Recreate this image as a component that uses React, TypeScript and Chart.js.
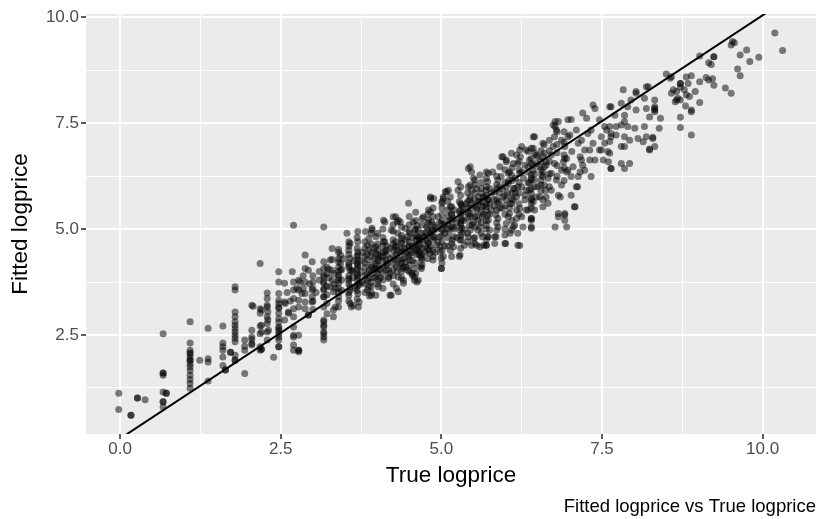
import React, { useEffect, useRef } from "react";
import { Chart, registerables } from "chart.js";

Chart.register(...registerables);

const obsBelow1_5: [number, number][] = [
  [-0.02, 1.12], [-0.02, 0.74], [0.17, 0.6], [0.17, 0.6], [0.27, 1.01], [0.27, 1.01], [0.39, 0.97],
  [0.67, 2.53], [0.67, 1.6], [0.67, 1.6], [0.67, 1.55], [0.67, 1.15], [0.72, 1.12], [0.72, 1.12], [0.67, 0.92], [0.67, 0.92], [0.67, 0.8],
  [1.09, 2.81], [1.09, 2.31], [1.09, 2.14], [1.09, 2.05], [1.09, 1.97], [1.09, 1.9], [1.09, 1.82], [1.09, 1.75],
  [1.09, 1.66], [1.09, 1.55], [1.09, 1.45], [1.09, 1.35], [1.09, 1.24], [1.09, 2.08], [1.09, 1.9],
  [1.24, 1.9], [1.37, 2.66], [1.37, 1.94], [1.37, 1.86], [1.37, 1.41],
];

const obs1_5to2_5: [number, number][] = [
  [1.6, 2.71], [1.6, 2.31], [1.6, 2.22], [1.6, 2.14], [1.6, 1.98], [1.6, 1.78], [1.64, 1.67], [1.64, 1.67], [1.72, 2.09], [1.72, 2.09],
  [1.79, 3.64], [1.79, 3.56], [1.79, 3.04], [1.79, 2.93], [1.79, 2.81], [1.79, 2.73], [1.79, 2.65], [1.79, 2.57],
  [1.79, 2.49], [1.79, 2.42], [1.79, 2.34], [1.79, 2.02], [1.79, 1.9], [1.79, 1.9],
  [1.94, 2.38], [1.94, 2.23], [1.94, 2.14], [1.94, 1.59],
  [2.05, 3.2], [2.07, 3.18], [2.05, 2.61], [2.05, 2.45], [2.05, 2.39], [2.05, 2.3], [2.05, 2.26],
  [2.18, 4.19], [2.18, 3.12], [2.18, 3.01], [2.18, 2.71], [2.18, 2.53], [2.2, 2.57], [2.18, 2.22], [2.18, 2.14],
  [2.2, 2.73], [2.2, 3.09], [2.2, 2.16], [2.2, 2.16],
  [2.29, 3.49], [2.29, 3.36], [2.29, 3.2], [2.29, 3.16], [2.29, 2.93], [2.29, 2.77], [2.29, 2.57], [2.29, 2.38],
  [2.31, 2.61], [2.39, 1.97],
  [2.47, 3.99], [2.47, 3.75], [2.47, 3.48], [2.47, 3.32], [2.47, 3.24], [2.47, 3.16], [2.47, 3.13], [2.47, 3.01],
  [2.47, 2.89], [2.47, 2.69], [2.47, 2.65], [2.47, 2.53], [2.47, 2.45], [2.47, 2.38], [2.47, 2.22], [2.47, 2.22],
  [2.3, 3.05], [2.3, 2.85], [2.47, 2.8], [2.47, 2.6],
];

const obs2_5to3_5: [number, number][] = [
  [2.56, 3.72], [2.56, 3.28], [2.56, 2.85], [2.57, 3.24], [2.62, 3.04], [2.62, 3.01],
  [2.68, 3.99], [2.7, 3.75], [2.7, 3.56], [2.7, 3.36], [2.7, 3.12], [2.7, 2.93], [2.7, 2.69], [2.7, 2.49],
  [2.7, 2.45], [2.7, 2.26], [2.7, 2.14], [2.78, 2.14], [2.78, 2.14], [2.7, 5.09], [2.78, 2.1],
  [2.78, 3.79], [2.78, 3.56], [2.78, 3.32], [2.78, 3.16], [2.78, 2.49], [2.8, 3.75], [2.83, 3.48],
  [2.88, 4.39], [2.88, 4.07], [2.88, 3.75], [2.88, 3.48], [2.88, 3.12], [2.88, 3.28], [2.93, 2.97], [2.93, 2.97], [2.93, 4.03],
  [2.99, 4.23], [2.99, 3.56], [2.99, 3.4], [2.99, 3.28],
  [3.17, 5.05], [3.17, 4.23], [3.17, 4.07], [3.17, 3.91], [3.17, 3.87], [3.17, 3.75], [3.17, 3.72], [3.17, 3.59],
  [3.17, 3.56], [3.17, 3.4], [3.17, 3.4], [3.17, 3.16], [3.17, 2.85], [3.17, 2.81], [3.17, 2.73], [3.17, 2.69],
  [3.17, 2.57], [3.17, 2.53], [3.17, 2.38], [3.17, 2.45],
  [3.27, 3.64], [3.27, 4.27], [3.3, 4.54], [3.3, 4.28], [3.3, 4.03], [3.3, 3.79], [3.32, 3.09], [3.32, 2.93],
  [3.32, 3.52], [3.35, 3.6], [3.35, 3.16],
  [3.4, 4.52], [3.43, 4.39], [3.4, 4.23], [3.43, 4.19], [3.43, 4.03], [3.4, 3.91], [3.4, 3.79], [3.4, 3.72],
  [3.4, 3.4], [3.4, 3.16],
  [3.0, 3.1], [3.0, 3.3], [3.0, 3.6], [3.0, 3.75], [3.0, 3.9],
  [3.22, 3.0], [3.22, 3.25], [3.22, 3.45], [3.22, 3.65], [3.22, 3.95], [3.22, 4.1],
  [3.4, 3.3], [3.4, 3.5], [3.4, 3.6], [3.4, 3.85], [3.4, 4.0], [3.4, 4.1], [3.4, 4.3], [3.4, 4.45],
  [2.6, 3.5], [2.65, 3.3], [2.75, 3.6], [2.85, 3.6], [2.85, 3.9], [2.95, 3.7], [3.05, 3.5], [3.1, 3.8],
  [3.1, 4.0], [3.25, 3.85], [3.25, 4.05], [3.33, 3.7], [3.33, 3.95], [3.45, 3.55], [3.45, 3.8], [3.45, 4.05], [3.48, 4.3],
];

const obs3_5to4_5: [number, number][] = [
  [3.53, 4.9], [3.56, 4.7], [3.58, 4.66], [3.56, 4.5], [3.58, 4.31], [3.61, 4.03], [3.56, 4.15], [3.58, 4.03],
  [3.56, 3.83], [3.56, 3.79], [3.58, 3.64], [3.58, 3.56], [3.56, 3.44], [3.58, 3.24], [3.63, 3.2], [3.6, 3.16],
  [3.7, 4.94], [3.7, 4.7], [3.7, 4.46], [3.7, 4.39], [3.7, 4.27], [3.7, 4.15], [3.7, 4.11], [3.7, 3.91],
  [3.7, 3.87], [3.72, 3.72], [3.72, 3.68], [3.7, 3.48], [3.72, 3.28], [3.71, 3.16],
  [3.82, 4.94], [3.85, 4.62], [3.87, 5.21], [3.92, 4.98], [3.87, 4.78], [3.87, 4.5], [3.85, 4.27], [3.87, 4.03],
  [3.87, 3.83], [3.85, 3.79], [3.87, 3.64], [3.85, 3.56], [3.91, 3.44], [3.88, 3.42],
  [3.92, 5.02], [3.98, 4.82], [3.98, 4.58], [3.98, 4.43], [4.02, 4.31], [3.98, 4.19], [3.98, 4.07], [4.0, 4.03],
  [3.98, 3.87], [4.02, 3.79], [4.02, 3.64], [3.98, 3.44],
  [4.1, 5.21], [4.12, 5.17], [4.1, 4.7], [4.12, 4.7], [4.14, 4.5], [4.12, 4.46], [4.14, 4.27], [4.16, 4.19],
  [4.14, 4.03], [4.18, 4.03], [4.18, 3.87], [4.18, 3.83], [4.2, 3.44], [4.22, 3.44],
  [4.22, 4.98], [4.25, 5.29], [4.28, 4.27], [4.28, 4.58], [4.29, 5.29], [4.31, 5.17], [4.32, 4.9], [4.29, 4.7],
  [4.31, 4.5], [4.33, 4.27], [4.3, 4.11], [4.31, 3.99], [4.3, 3.6], [4.33, 3.52],
  [4.36, 5.17], [4.38, 4.78], [4.4, 4.46], [4.4, 4.07], [4.41, 3.79], [4.44, 5.02], [4.47, 4.82], [4.48, 4.58],
  [4.46, 4.43], [4.44, 4.23], [4.48, 4.03], [4.33, 5.21], [4.38, 4.66], [4.49, 4.35], [4.41, 4.11], [4.33, 3.87],
  [4.41, 3.72],
];

// denser core along the price columns
const obsCore3_5to4_5: [number, number][] = [
  [3.56, 3.3], [3.56, 3.5], [3.56, 3.7], [3.56, 3.9], [3.56, 4.1], [3.56, 4.2], [3.56, 4.4], [3.56, 4.6],
  [3.69, 3.35], [3.69, 3.55], [3.69, 3.65], [3.69, 3.8], [3.69, 3.95], [3.69, 4.05], [3.69, 4.2], [3.69, 4.35], [3.69, 4.55], [3.69, 4.8],
  [3.81, 3.5], [3.81, 3.7], [3.81, 3.9], [3.81, 4.1], [3.81, 4.2], [3.81, 4.35], [3.81, 4.55], [3.81, 4.7],
  [3.91, 3.5], [3.91, 3.65], [3.91, 3.75], [3.91, 3.95], [3.91, 4.1], [3.91, 4.15], [3.91, 4.35], [3.91, 4.45], [3.91, 4.65], [3.91, 4.9],
  [4.01, 3.7], [4.01, 3.95], [4.01, 4.15], [4.01, 4.25], [4.01, 4.4], [4.01, 4.5], [4.01, 4.65], [4.01, 4.9],
  [4.09, 3.6], [4.09, 3.8], [4.09, 3.95], [4.09, 4.1], [4.09, 4.25], [4.09, 4.35], [4.09, 4.45], [4.09, 4.6], [4.09, 4.8], [4.09, 5.0],
  [4.25, 3.7], [4.25, 3.9], [4.25, 4.05], [4.25, 4.2], [4.25, 4.35], [4.25, 4.5], [4.25, 4.65], [4.25, 4.75], [4.25, 4.95], [4.25, 5.1],
  [4.38, 3.85], [4.38, 4.0], [4.38, 4.2], [4.38, 4.3], [4.38, 4.55], [4.38, 4.7], [4.38, 4.85], [4.38, 5.05],
  [4.5, 4.0], [4.5, 4.15], [4.5, 4.4], [4.5, 4.6], [4.5, 4.7], [4.5, 4.95], [4.5, 5.1], [4.5, 5.3],
  [3.62, 3.85], [3.62, 4.0], [3.64, 4.25], [3.66, 3.6], [3.75, 4.0], [3.75, 4.25], [3.77, 3.75], [3.77, 4.45],
  [3.84, 3.95], [3.84, 4.4], [3.95, 3.85], [3.95, 4.05], [3.95, 4.3], [3.95, 4.55],
  [4.05, 4.05], [4.05, 4.35], [4.05, 3.85], [4.15, 4.15], [4.15, 4.4], [4.15, 4.6], [4.2, 3.95], [4.2, 4.3],
  [4.2, 4.55], [4.3, 4.4], [4.3, 4.6], [4.35, 4.15], [4.35, 4.45], [4.42, 4.3], [4.42, 4.55], [4.45, 4.75], [4.45, 4.1],
];

const obs4_5to5_5: [number, number][] = [
  [4.49, 5.61], [4.51, 4.9], [4.51, 4.5], [4.51, 4.27], [4.54, 3.95], [4.55, 3.91], [4.58, 3.79], [4.62, 3.75],
  [4.56, 5.17], [4.59, 4.98], [4.61, 4.74], [4.6, 4.5], [4.58, 4.07], [4.58, 3.87], [4.62, 5.09], [4.63, 4.82],
  [4.66, 4.66], [4.66, 4.46], [4.69, 4.31], [4.69, 4.07], [4.7, 4.27], [4.72, 5.29], [4.72, 4.82],
  [4.64, 4.98], [4.66, 4.74], [4.64, 4.5], [4.68, 4.35], [4.68, 4.11], [4.64, 3.79],
  [4.77, 5.05], [4.77, 4.74], [4.8, 4.5], [4.83, 5.76], [4.83, 5.41], [4.85, 5.17], [4.8, 5.45], [4.83, 5.72],
  [4.8, 5.21], [4.85, 4.98], [4.87, 4.82], [4.8, 4.66], [4.82, 4.43], [4.87, 4.27],
  [4.9, 5.05], [4.93, 4.62], [4.88, 5.72], [4.95, 5.29], [5.0, 5.13], [4.97, 4.82], [5.02, 4.98], [4.98, 4.58],
  [5.0, 4.31], [5.0, 4.07], [4.98, 4.46], [5.03, 4.35], [5.0, 4.07],
  [5.03, 5.76], [5.06, 5.88], [5.11, 5.92], [5.03, 5.72], [5.01, 5.61], [5.08, 5.88],
  [5.14, 5.76], [5.14, 5.53], [5.16, 5.53], [5.16, 5.37], [5.16, 5.33], [5.16, 5.21], [5.19, 5.05], [5.16, 5.05],
  [5.19, 4.82], [5.17, 4.74], [5.16, 4.66], [5.19, 4.58], [5.14, 4.5], [5.16, 4.35], [5.29, 4.39],
  [5.26, 6.12], [5.26, 5.92], [5.28, 5.65], [5.31, 5.57], [5.28, 5.41], [5.33, 5.53], [5.31, 5.21], [5.31, 5.25],
  [5.29, 4.98], [5.31, 5.02], [5.33, 4.9], [5.29, 4.74], [5.31, 4.74], [5.36, 4.62], [5.28, 4.35],
  [5.42, 6.43], [5.45, 6.47], [5.47, 6.35], [5.5, 6.2], [5.42, 6.0], [5.45, 6.04], [5.47, 5.92], [5.44, 5.69],
  [5.45, 5.76], [5.42, 5.37], [5.47, 5.61], [5.44, 5.09], [5.45, 5.37], [5.42, 4.82], [5.5, 5.17], [5.52, 4.66],
  [5.45, 4.98], [5.5, 4.78], [5.47, 4.62],
];

const obsCore4_5to5_5: [number, number][] = [
  [4.6, 3.95], [4.6, 4.2], [4.6, 4.4], [4.6, 4.55], [4.6, 4.65], [4.6, 4.85], [4.6, 5.0], [4.6, 5.2], [4.6, 5.4],
  [4.7, 4.15], [4.7, 4.4], [4.7, 4.55], [4.7, 4.75], [4.7, 4.9], [4.7, 5.1], [4.7, 5.25],
  [4.79, 4.3], [4.79, 4.55], [4.79, 4.7], [4.79, 4.85], [4.79, 5.0], [4.79, 5.15], [4.79, 5.35],
  [4.87, 4.35], [4.87, 4.5], [4.87, 4.75], [4.87, 4.95], [4.87, 5.1], [4.87, 5.3], [4.87, 5.5],
  [5.01, 4.2], [5.01, 4.5], [5.01, 4.7], [5.01, 4.85], [5.01, 5.0], [5.01, 5.2], [5.01, 5.35], [5.01, 5.5], [5.01, 5.65],
  [5.1, 4.6], [5.1, 4.8], [5.1, 5.0], [5.1, 5.1], [5.1, 5.3], [5.1, 5.45], [5.1, 5.65],
  [5.3, 4.55], [5.3, 4.85], [5.3, 5.1], [5.3, 5.15], [5.3, 5.35], [5.3, 5.45], [5.3, 5.6], [5.3, 5.8], [5.3, 6.0],
  [5.41, 4.7], [5.41, 4.9], [5.41, 5.25], [5.41, 5.5], [5.41, 5.65], [5.41, 5.85],
  [4.55, 4.45], [4.55, 4.6], [4.55, 4.8], [4.55, 4.25], [4.65, 4.6], [4.65, 4.8], [4.65, 4.4], [4.75, 4.6],
  [4.75, 4.9], [4.75, 4.45], [4.83, 4.6], [4.83, 4.9], [4.9, 4.8], [4.9, 4.45], [4.93, 5.0], [4.95, 4.7], [4.97, 5.15],
  [5.05, 4.9], [5.05, 5.1], [5.05, 4.6], [5.12, 5.2], [5.12, 4.95], [5.2, 5.0], [5.2, 5.25], [5.2, 5.45],
  [5.24, 4.8], [5.24, 5.15], [5.35, 5.2], [5.35, 5.4], [5.35, 5.0], [5.38, 5.6], [5.45, 5.3], [5.45, 5.5], [5.48, 5.1],
];

const obs5_5to6_5: [number, number][] = [
  [5.52, 6.16], [5.55, 5.96], [5.58, 5.76], [5.55, 5.45], [5.57, 5.21], [5.57, 4.98], [5.55, 4.62], [5.6, 4.58],
  [5.6, 6.28], [5.62, 5.96], [5.65, 5.76], [5.62, 5.53], [5.64, 5.29], [5.6, 5.05], [5.64, 4.82], [5.66, 4.62], [5.7, 4.62],
  [5.7, 6.35], [5.72, 6.12], [5.7, 5.92], [5.73, 5.69], [5.7, 5.53], [5.72, 5.33], [5.7, 5.09], [5.72, 4.82], [5.7, 4.62],
  [5.73, 6.32], [5.75, 5.96], [5.73, 5.69], [5.78, 5.45], [5.73, 5.21], [5.75, 4.98], [5.73, 4.82], [5.83, 4.82],
  [5.8, 6.35], [5.88, 6.16], [5.83, 5.88], [5.88, 5.61], [5.85, 5.33], [5.88, 5.05], [5.85, 4.82], [5.83, 4.66],
  [5.91, 6.47], [5.93, 6.24], [5.91, 6.0], [5.96, 5.76], [5.91, 5.49], [5.88, 5.25], [5.86, 4.98], [5.99, 4.66], [6.07, 4.9],
  [5.96, 6.71], [6.01, 6.59], [6.04, 6.32], [6.01, 6.0], [6.01, 5.69], [6.06, 5.37], [6.01, 5.13], [5.99, 4.86], [6.0, 4.66],
  [5.94, 6.71], [6.01, 6.63], [6.06, 6.35], [6.04, 6.08], [6.12, 5.96], [6.09, 5.72], [6.06, 5.49], [6.04, 5.29], [6.12, 5.05], [6.09, 4.98],
  [6.09, 6.79], [6.12, 6.55], [6.09, 6.28], [6.14, 5.96], [6.12, 5.69], [6.17, 5.45], [6.14, 5.09], [6.22, 4.61],
  [6.17, 6.75], [6.22, 6.87], [6.19, 6.55], [6.22, 6.32], [6.19, 6.0], [6.17, 5.76], [6.22, 5.49], [6.17, 5.25], [6.19, 4.9], [6.19, 4.62],
  [6.25, 6.95], [6.23, 6.71], [6.3, 6.51], [6.28, 6.2], [6.32, 5.92], [6.3, 5.69], [6.32, 5.45], [6.25, 5.29], [6.27, 5.05],
  [6.32, 6.87], [6.37, 6.63], [6.35, 6.35], [6.4, 6.16], [6.37, 5.92], [6.4, 5.69], [6.35, 5.45], [6.4, 5.25], [6.4, 5.02], [6.45, 7.18],
];

const obsCore5_5to7: [number, number][] = [
  [5.52, 4.8], [5.52, 5.05], [5.52, 5.3], [5.52, 5.55], [5.52, 5.7], [5.52, 5.85], [5.52, 6.05],
  [5.62, 4.9], [5.62, 5.15], [5.62, 5.4], [5.62, 5.65], [5.62, 5.85], [5.62, 6.1],
  [5.7, 4.75], [5.7, 5.0], [5.7, 5.2], [5.7, 5.45], [5.7, 5.6], [5.7, 5.8], [5.7, 6.0], [5.7, 6.2],
  [5.86, 5.15], [5.86, 5.45], [5.86, 5.7], [5.86, 5.95], [5.86, 6.05], [5.86, 6.25],
  [5.99, 5.0], [5.99, 5.35], [5.99, 5.55], [5.99, 5.8], [5.99, 6.1], [5.99, 6.4],
  [6.1, 5.2], [6.1, 5.6], [6.1, 5.85], [6.1, 6.15], [6.1, 6.45],
  [6.21, 5.35], [6.21, 5.6], [6.21, 5.85], [6.21, 6.1], [6.21, 6.4], [6.21, 6.6],
  [6.4, 5.6], [6.4, 5.95], [6.4, 6.2], [6.4, 6.55],
  [6.55, 5.9], [6.55, 6.15], [6.55, 6.4], [6.55, 6.6], [6.55, 6.85],
  [6.68, 6.0], [6.68, 6.3], [6.68, 6.6], [6.68, 6.85], [6.68, 7.1],
  [6.8, 6.25], [6.8, 6.5], [6.8, 6.8], [6.8, 7.0],
  [6.91, 6.15], [6.91, 6.45], [6.91, 6.75], [6.91, 7.05], [6.91, 7.3],
  [5.55, 5.5], [5.55, 5.3], [5.58, 5.65], [5.65, 5.55], [5.65, 5.35], [5.68, 5.75], [5.75, 5.6], [5.75, 5.35],
  [5.78, 5.85], [5.82, 5.55], [5.82, 5.7], [5.9, 5.65], [5.9, 5.85], [5.95, 5.95], [5.95, 5.5],
  [6.03, 5.85], [6.05, 6.15], [6.07, 5.6], [6.15, 5.85], [6.15, 6.2], [6.25, 6.0], [6.25, 6.35], [6.3, 5.8],
  [6.35, 6.1], [6.45, 6.3], [6.48, 6.55], [6.5, 6.0], [6.58, 6.35],
];

const obs6_5to7_7: [number, number][] = [
  [6.35, 6.83], [6.4, 6.67], [6.43, 6.91], [6.48, 6.75], [6.35, 6.47], [6.43, 6.39], [6.45, 6.16], [6.37, 6.08],
  [6.4, 5.84], [6.48, 5.76], [6.43, 5.65], [6.4, 5.49], [6.4, 5.21], [6.4, 5.05],
  [6.4, 6.91], [6.45, 6.79], [6.43, 6.51], [6.4, 6.28], [6.45, 6.0], [6.4, 5.72], [6.45, 5.45], [6.4, 5.25], [6.43, 7.18],
  [6.5, 6.71], [6.53, 6.47], [6.56, 6.28], [6.55, 6.04], [6.53, 5.76], [6.6, 6.99], [6.63, 6.59],
  [6.58, 7.03], [6.58, 6.71], [6.6, 6.47], [6.58, 6.24], [6.6, 6.04], [6.63, 5.76], [6.66, 5.61], [6.58, 5.53],
  [6.6, 6.79], [6.63, 6.51], [6.66, 6.2], [6.62, 5.92], [6.58, 5.69],
  [6.74, 7.46], [6.79, 7.34], [6.76, 7.18], [6.74, 6.95], [6.71, 6.75], [6.76, 6.55], [6.71, 6.32], [6.79, 6.16],
  [6.71, 5.92], [6.82, 5.8], [6.82, 5.37], [6.82, 5.29], [6.92, 5.37], [6.92, 5.21], [7.02, 5.8], [7.07, 5.53],
  [7.1, 6.0], [7.13, 6.24], [6.77, 5.05],
  [6.82, 7.54], [7.02, 7.59], [6.97, 7.18], [6.92, 6.95], [6.95, 6.67], [6.97, 6.39], [6.87, 6.39], [6.77, 7.42],
  [6.8, 7.3], [6.77, 7.54], [6.87, 7.1], [6.92, 6.67], [6.9, 6.59], [6.95, 6.35], [6.87, 6.04], [6.85, 5.76],
  [6.92, 5.33], [6.95, 5.05],
  [7.1, 7.34], [7.2, 7.74], [7.26, 7.62], [7.18, 7.1], [7.23, 6.87], [7.18, 6.63], [7.23, 6.39], [7.31, 6.87],
  [7.31, 6.63], [7.33, 6.24], [6.97, 7.58], [7.0, 7.22], [7.03, 6.83], [7.05, 6.47], [7.02, 6.24], [7.08, 5.53],
  [7.36, 7.93], [7.39, 7.85], [7.33, 7.34], [7.36, 7.03], [7.39, 6.63], [7.46, 6.87], [7.49, 7.18], [7.46, 7.58],
  [7.52, 6.63], [7.13, 7.03], [7.16, 6.71], [7.2, 6.51], [7.16, 6.35], [7.12, 6.0], [7.28, 7.26],
  [7.57, 7.34], [7.62, 7.42], [7.59, 6.83], [7.64, 6.43], [7.62, 7.07], [7.54, 7.42], [7.64, 7.26], [7.62, 7.89],
  [7.6, 6.59], [7.72, 7.22],
];

const obsAbove7_6: [number, number][] = [
  [7.64, 7.89], [7.7, 7.69], [7.72, 7.42], [7.64, 7.18], [7.62, 6.79], [7.64, 6.43], [7.54, 7.03], [7.49, 6.87],
  [7.83, 8.29], [7.8, 7.97], [7.85, 7.69], [7.8, 7.46], [7.9, 7.42], [7.93, 7.1], [7.8, 6.95], [7.85, 6.95],
  [7.8, 6.55], [7.85, 6.43], [7.93, 6.55], [7.9, 7.89], [7.85, 7.54], [8.01, 7.38], [7.85, 7.18],
  [8.03, 8.25], [7.95, 8.05], [8.03, 7.81], [8.16, 8.09], [8.19, 7.85], [8.24, 7.65], [8.16, 7.42], [8.19, 7.18],
  [8.14, 7.06], [8.06, 7.14], [8.03, 8.21], [8.19, 8.36], [8.29, 7.14], [8.24, 6.87],
  [8.22, 8.36], [8.32, 8.05], [8.32, 7.89], [8.32, 7.81], [8.41, 7.62], [8.39, 7.38], [8.29, 7.17], [8.32, 6.95], [8.24, 6.89],
  [8.32, 7.85], [8.32, 7.77],
  [8.5, 8.66], [8.58, 8.6], [8.56, 8.56], [8.61, 8.29], [8.58, 8.21], [8.66, 8.25], [8.68, 8.09], [8.66, 8.05], [8.64, 8.01],
  [8.72, 8.44], [8.72, 8.35], [8.72, 8.05], [8.72, 7.64], [8.72, 7.4], [8.72, 8.44],
  [8.89, 8.62], [8.81, 8.59], [8.84, 8.44], [8.78, 8.29], [8.81, 8.17], [8.86, 8.13], [8.8, 7.91], [8.89, 7.81], [8.89, 7.77],
  [9.02, 9.09], [9.16, 8.93], [9.2, 8.89], [9.24, 9.07], [9.24, 9.07], [9.12, 8.58], [9.16, 8.52], [9.22, 8.55], [9.24, 8.4],
  [9.02, 8.48], [8.95, 8.25], [9.02, 7.99], [8.89, 7.22],
  [9.42, 8.33], [9.51, 8.21], [9.53, 9.43], [9.51, 9.35], [9.56, 9.4], [9.65, 9.11], [9.75, 9.23], [9.8, 8.96],
  [9.94, 9.06], [9.61, 8.78], [9.65, 8.62],
  [10.19, 9.63], [10.31, 9.22],
];

// reference line (y = x, as drawn)
const refLineTrue = [-1, 11];
const refLineFitted = [-0.95, 11.05];

const xMajorTicks = [0, 2.5, 5, 7.5, 10];
const xMinorTicks = [1.25, 3.75, 6.25, 8.75];
const yMajorTicks = [2.5, 5, 7.5, 10];
const yMinorTicks = [1.25, 3.75, 6.25, 8.75];

const xLabel = "True logprice";
const yLabel = "Fitted logprice";
const caption = "Fitted logprice vs True logprice";

const FONT = "'Liberation Sans', Arial, Helvetica, sans-serif";

export default function App() {
  const ref = useRef<HTMLCanvasElement | null>(null);

  useEffect(() => {
    if (!ref.current) return;
    const all = [
      ...obsBelow1_5,
      ...obs1_5to2_5,
      ...obs2_5to3_5,
      ...obs3_5to4_5,
      ...obsCore3_5to4_5,
      ...obs4_5to5_5,
      ...obsCore4_5to5_5,
      ...obs5_5to6_5,
      ...obsCore5_5to7,
      ...obs6_5to7_7,
      ...obsAbove7_6,
    ];
    const isMajor = (v: number, majors: number[]) => majors.some((m) => Math.abs(m - v) < 1e-6);

    const panelBg = {
      id: "panelBg",
      beforeDraw(chart: any) {
        const { ctx, chartArea } = chart;
        ctx.save();
        ctx.fillStyle = "#EBEBEB";
        ctx.fillRect(chartArea.left, chartArea.top, chartArea.right - chartArea.left, chartArea.bottom - chartArea.top);
        ctx.restore();
      },
    };
    const captionPlugin = {
      id: "captionText",
      afterDraw(chart: any) {
        const { ctx, chartArea } = chart;
        ctx.save();
        ctx.font = `18.5px ${FONT}`;
        ctx.fillStyle = "#000000";
        ctx.textAlign = "right";
        ctx.textBaseline = "alphabetic";
        ctx.fillText(caption, chartArea.right, 512);
        ctx.restore();
      },
    };

    const chart = new Chart(ref.current, {
      type: "scatter",
      data: {
        datasets: [
          {
            type: "line",
            data: refLineTrue.map((x, i) => ({ x, y: refLineFitted[i] })),
            borderColor: "#000000",
            borderWidth: 2,
            pointRadius: 0,
            fill: false,
          } as any,
          {
            data: all.map(([x, y]) => ({ x, y })),
            backgroundColor: "rgba(0,0,0,0.5)",
            borderWidth: 0,
            pointRadius: 3.5,
          },
        ],
      },
      options: {
        animation: false,
        responsive: false,
        devicePixelRatio: 1,
        layout: { padding: { top: 14, right: 2, bottom: 29, left: 0 } },
        plugins: { legend: { display: false }, tooltip: { enabled: false } },
        scales: {
          x: {
            type: "linear",
            min: -0.53,
            max: 10.83,
            afterBuildTicks: (axis: any) => {
              axis.ticks = [...xMajorTicks, ...xMinorTicks].sort((a, b) => a - b).map((v) => ({ value: v }));
            },
            afterFit: (axis: any) => {
              axis.height = 56;
            },
            border: { display: false },
            grid: {
              color: "#FFFFFF",
              lineWidth: (c: any) => (isMajor(c.tick?.value, xMajorTicks) ? 2 : 1),
              tickColor: (c: any) => (isMajor(c.tick?.value, xMajorTicks) ? "#333333" : "rgba(0,0,0,0)"),
              tickLength: 5,
              tickWidth: 1.6,
            },
            ticks: {
              autoSkip: false,
              maxRotation: 0,
              padding: 0,
              color: "#4D4D4D",
              font: { family: FONT, size: 17 },
              callback: (v: any) => (isMajor(Number(v), xMajorTicks) ? Number(v).toFixed(1) : ""),
            },
            title: {
              display: true,
              text: xLabel,
              color: "#000000",
              font: { family: FONT, size: 22.5 },
              padding: { top: 0, bottom: 1 },
            },
          },
          y: {
            type: "linear",
            min: 0.16,
            max: 10.08,
            afterBuildTicks: (axis: any) => {
              axis.ticks = [...yMajorTicks, ...yMinorTicks].sort((a, b) => a - b).map((v) => ({ value: v }));
            },
            afterFit: (axis: any) => {
              axis.width = 86;
            },
            border: { display: false },
            grid: {
              color: "#FFFFFF",
              lineWidth: (c: any) => (isMajor(c.tick?.value, yMajorTicks) ? 2 : 1),
              tickColor: (c: any) => (isMajor(c.tick?.value, yMajorTicks) ? "#333333" : "rgba(0,0,0,0)"),
              tickLength: 5,
              tickWidth: 1.6,
            },
            ticks: {
              autoSkip: false,
              padding: 2,
              color: "#4D4D4D",
              font: { family: FONT, size: 17 },
              callback: (v: any) => (isMajor(Number(v), yMajorTicks) ? Number(v).toFixed(1) : ""),
            },
            title: {
              display: true,
              text: yLabel,
              color: "#000000",
              font: { family: FONT, size: 22.5 },
              padding: { top: 7, bottom: 0 },
            },
          },
        },
      },
      plugins: [panelBg, captionPlugin],
    });
    return () => chart.destroy();
  }, []);

  return (
    <div style={{ position: "absolute", left: 0, top: 0, width: 820, height: 519, background: "#FFFFFF" }}>
      <canvas ref={ref} width={820} height={519} style={{ display: "block" }} />
    </div>
  );
}
